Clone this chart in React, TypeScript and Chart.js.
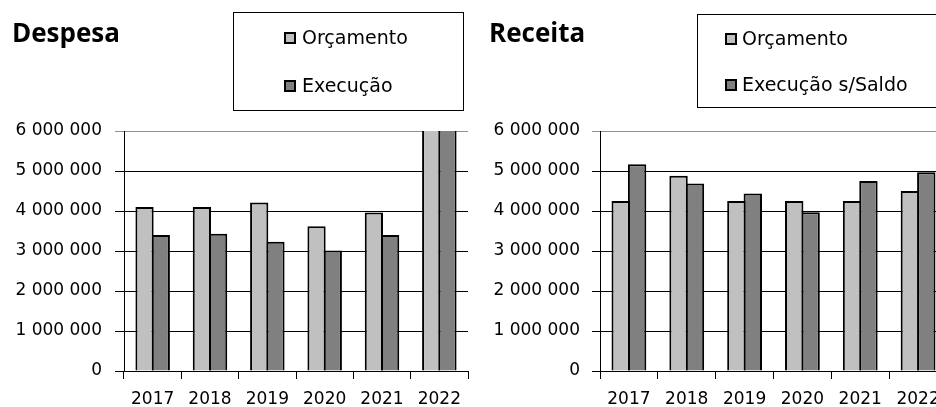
import React, { useEffect, useRef } from "react";
import { Chart, registerables } from "chart.js";

Chart.register(...registerables);

const categories = ["2017", "2018", "2019", "2020", "2021", "2022"];
const despesaOrcamento = [4100000, 4100000, 4210000, 3620000, 3960000, 6900000];
const despesaExecucao = [3400000, 3430000, 3230000, 3010000, 3400000, 6800000];
const receitaOrcamento = [4250000, 4880000, 4250000, 4250000, 4250000, 4500000];
const receitaExecucao = [5170000, 4690000, 4440000, 3970000, 4750000, 4970000];
const yTickLabels = ["0", "1 000 000", "2 000 000", "3 000 000", "4 000 000", "5 000 000", "6 000 000"];
const legendDespesa = ["Orçamento", "Execução"];
const legendReceita = ["Orçamento", "Execução s/Saldo"];

const LIGHT = "#c0c0c0";
const DARK = "#808080";

const headerPlugin = {
  id: "header",
  afterDraw(chart: any, _args: any, opts: any) {
    const ctx = chart.ctx;
    ctx.save();
    ctx.fillStyle = "#000";
    ctx.textAlign = "left";
    ctx.textBaseline = "alphabetic";
    ctx.font = 'bold 26px "Open Sans"';
    ctx.fillText(opts.title, opts.titleX, opts.titleY);
    const b = opts.box;
    ctx.strokeStyle = "#000";
    ctx.lineWidth = 1;
    ctx.strokeRect(b.x + 0.5, b.y + 0.5, b.w, b.h);
    ctx.font = '19px "DejaVu Sans"';
    ctx.textBaseline = "middle";
    chart.data.datasets.forEach((ds: any, i: number) => {
      const cy = opts.rowY[i];
      ctx.fillStyle = ds.backgroundColor;
      ctx.fillRect(opts.sqX, cy - 6, 12, 12);
      ctx.lineWidth = 2;
      ctx.strokeStyle = "#000";
      ctx.strokeRect(opts.sqX + 1, cy - 5, 10, 10);
      ctx.fillStyle = "#000";
      ctx.fillText(ds.label, opts.textX, cy + 1);
    });
    ctx.restore();
  },
};

type PanelProps = {
  left: number;
  width: number;
  axisWidth: number;
  padRight: number;
  tickLen: number;
  tickPad: number;
  labels: string[];
  s1: number[];
  s2: number[];
  header: any;
};

function Panel(p: PanelProps) {
  const ref = useRef<HTMLCanvasElement | null>(null);
  useEffect(() => {
    if (!ref.current) return;
    const barStyle = {
      borderColor: "#000",
      borderWidth: 2,
      borderSkipped: "start",
      categoryPercentage: 0.567,
      barPercentage: 1.123,
      clip: 0,
    };
    const chart = new Chart(ref.current, {
      type: "bar",
      data: {
        labels: categories,
        datasets: [
          { label: p.labels[0], data: p.s1, backgroundColor: LIGHT, ...barStyle } as any,
          { label: p.labels[1], data: p.s2, backgroundColor: DARK, ...barStyle } as any,
        ],
      },
      options: {
        responsive: false,
        animation: false,
        events: [],
        layout: { padding: { top: 131, left: 0, right: p.padRight, bottom: 0 } },
        plugins: {
          legend: { display: false },
          tooltip: { enabled: false },
          header: p.header,
        } as any,
        scales: {
          x: {
            offset: true,
            grid: {
              display: true,
              offset: true,
              drawOnChartArea: false,
              drawTicks: true,
              tickLength: 8,
              color: "#000",
            },
            border: { display: true, color: "#000", width: 1 },
            ticks: {
              color: "#000",
              padding: 10,
              font: { family: "DejaVu Sans", size: 17 },
              maxRotation: 0,
            },
            afterFit: (s: any) => {
              s.height = 36;
              s.paddingLeft = 0;
              s.paddingRight = 0;
            },
          },
          y: {
            min: 0,
            max: 6000000,
            grid: {
              color: (c: any) => (c.tick && c.tick.value === 6000000 ? "#909090" : "#000"),
              lineWidth: 1,
              drawTicks: true,
              tickLength: p.tickLen,
            },
            border: { display: true, color: "#000", width: 1 },
            ticks: {
              stepSize: 1000000,
              color: "#000",
              padding: p.tickPad,
              font: { family: "DejaVu Sans", size: 17 },
              callback: (v: any) => yTickLabels[Math.round(Number(v) / 1000000)],
            },
            afterFit: (s: any) => {
              s.width = p.axisWidth;
            },
          },
        },
      },
      plugins: [headerPlugin as any],
    });
    return () => chart.destroy();
  }, []);
  return (
    <canvas
      ref={ref}
      width={p.width}
      height={407}
      style={{ position: "absolute", left: p.left, top: 0, width: p.width, height: 407 }}
    />
  );
}

export default function App() {
  return (
    <div
      style={{
        position: "fixed",
        left: 0,
        top: 0,
        width: 936,
        height: 407,
        overflow: "hidden",
        background: "#fff",
      }}
    >
      <Panel
        left={0}
        width={470}
        axisWidth={124}
        padRight={2}
        tickLen={9}
        tickPad={13}
        labels={legendDespesa}
        s1={despesaOrcamento}
        s2={despesaExecucao}
        header={{
          title: "Despesa",
          titleX: 12,
          titleY: 42,
          box: { x: 233, y: 12, w: 230, h: 98 },
          rowY: [38, 86],
          sqX: 284,
          textX: 302,
        }}
      />
      <Panel
        left={470}
        width={477}
        axisWidth={130}
        padRight={0}
        tickLen={8}
        tickPad={12}
        labels={legendReceita}
        s1={receitaOrcamento}
        s2={receitaExecucao}
        header={{
          title: "Receita",
          titleX: 19,
          titleY: 42,
          box: { x: 227, y: 14, w: 260, h: 93 },
          rowY: [39, 85],
          sqX: 255,
          textX: 272,
        }}
      />
    </div>
  );
}
